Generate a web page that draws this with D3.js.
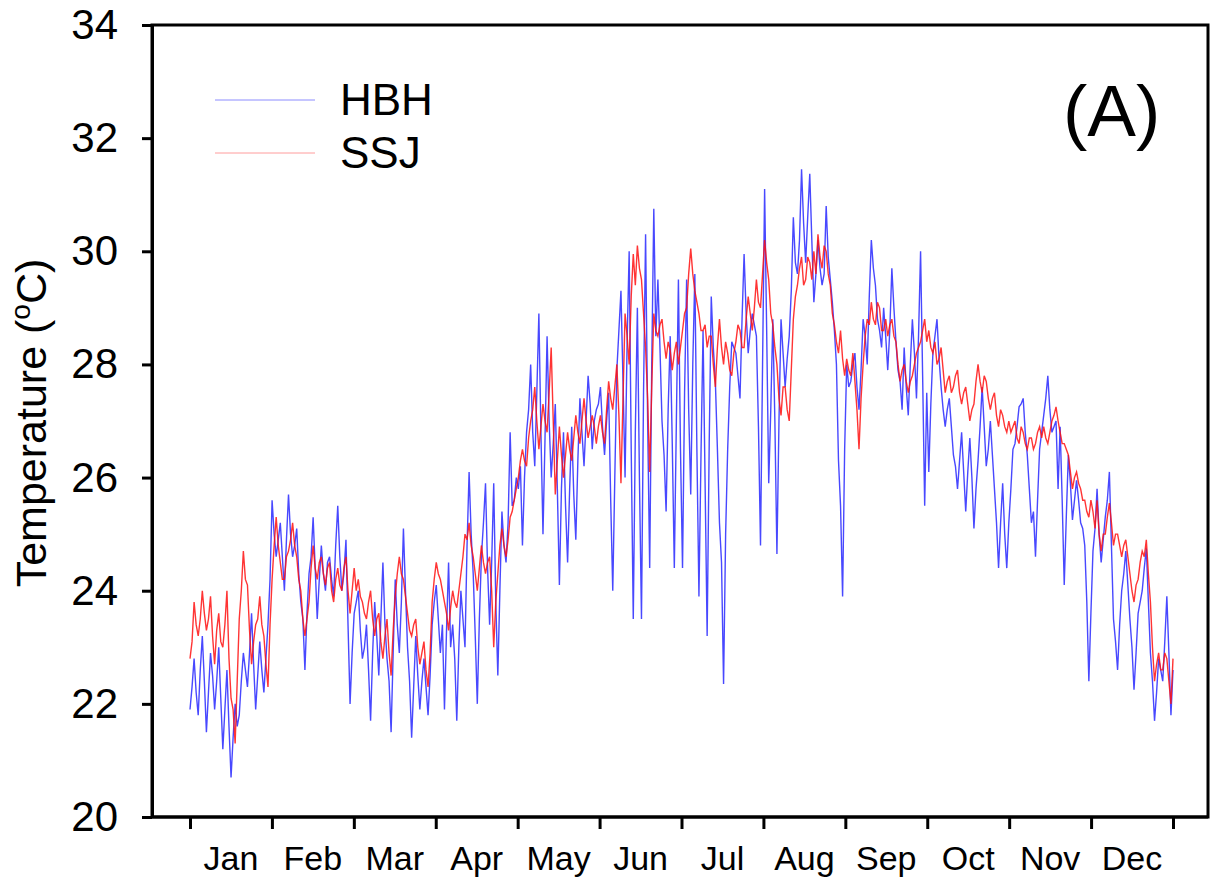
<!DOCTYPE html>
<html>
<head>
<meta charset="utf-8">
<script src="https://cdn.jsdelivr.net/npm/d3@7/dist/d3.min.js"></script>
<style>
  html, body { margin: 0; padding: 0; background: #ffffff; }
  svg { display: block; font-family: "Liberation Sans", Arial, sans-serif; }
</style>
</head>
<body>
<svg id="chart" width="1212" height="879"></svg>
<script>
// ---------- data ----------
const months = ["Jan","Feb","Mar","Apr","May","Jun","Jul","Aug","Sep","Oct","Nov","Dec"];
const yTicks = [20, 22, 24, 26, 28, 30, 32, 34];
const seriesNames = ["HBH", "SSJ"];

// HBH, 20 readings per month
const hbh = [
  21.9, 22.8, 21.8, 23.2, 21.5, 22.9, 21.9, 23.0, 21.2, 22.6, 20.7, 22.0, 21.8, 22.9, 22.3, 23.6, 21.9, 23.1, 22.2, 23.4, // Jan
  25.6, 24.6, 25.2, 24.0, 25.7, 24.6, 25.1, 23.8, 22.6, 24.3, 25.3, 23.5, 24.8, 24.0, 24.6, 23.9, 25.5, 24.0, 24.9, 22.0, // Feb
  23.6, 24.0, 22.8, 23.4, 21.7, 23.8, 22.5, 24.5, 22.8, 21.5, 24.2, 22.9, 25.1, 23.0, 21.4, 23.2, 21.9, 22.8, 21.8, 23.4, // Mar
  24.1, 22.9, 21.9, 24.5, 23.4, 21.7, 24.0, 23.0, 26.1, 24.3, 22.0, 24.6, 25.9, 23.4, 25.9, 22.5, 25.4, 24.5, 26.8, 25.6, // Apr
  25.8, 24.8, 26.8, 28.0, 26.2, 28.9, 25.0, 28.5, 26.0, 27.3, 24.1, 26.8, 24.5, 26.9, 24.9, 27.4, 26.2, 27.8, 26.5, 27.2, // May
  27.6, 26.4, 27.5, 24.0, 27.9, 29.3, 26.0, 30.0, 23.5, 29.0, 23.5, 30.3, 24.4, 30.75, 29.5, 27.0, 25.4, 28.5, 24.4, 29.5, // Jun
  24.4, 29.5, 25.7, 29.6, 23.9, 28.6, 23.2, 29.2, 27.7, 25.2, 22.35, 26.5, 28.4, 28.2, 27.4, 29.95, 28.2, 28.9, 28.5, 24.8, // Jul
  31.1, 25.9, 28.8, 24.65, 28.8, 27.6, 28.5, 30.6, 29.6, 31.45, 29.8, 31.37, 29.1, 30.2, 29.4, 30.8, 29.5, 28.6, 26.3, 23.9, // Aug
  28.0, 27.7, 28.2, 27.2, 28.8, 28.0, 30.2, 29.4, 28.6, 29.0, 27.9, 29.7, 28.4, 27.7, 28.3, 27.1, 28.8, 27.4, 30.0, 25.5, // Sep
  26.1, 28.2, 28.8, 27.6, 26.9, 27.4, 26.4, 25.8, 26.8, 25.4, 26.7, 25.1, 26.3, 27.6, 26.2, 27.0, 25.8, 24.4, 25.9, 24.4, // Oct
  25.8, 26.6, 27.25, 27.4, 26.4, 25.2, 24.6, 26.5, 27.1, 27.8, 26.8, 27.0, 26.9, 24.1, 26.4, 25.25, 25.95, 25.2, 24.8, 22.4, // Nov
  24.7, 25.8, 24.5, 25.3, 26.1, 23.5, 22.6, 24.0, 24.7, 23.5, 22.25, 23.6, 24.0, 24.75, 22.9, 21.7, 22.8, 22.4, 23.9, 21.8  // Dec
];
// HBH, readings taken half-way between the ones above
const hbhMid = [
  22.3, 22.2, 22.6, 22.4, 22.2, 22.5, 22.4, 22.1, 21.9, 21.6, 21.4, 21.6, 22.4, 22.6, 22.9, 22.7, 22.5, 22.6, 22.8, 24.2, // Jan
  25.0, 24.9, 24.6, 24.9, 25.0, 24.8, 24.3, 23.5, 23.6, 24.6, 24.4, 24.2, 24.3, 24.5, 24.2, 24.8, 24.6, 24.3, 23.4, 22.9, // Feb
  23.8, 23.3, 23.0, 22.6, 22.9, 23.2, 23.5, 23.4, 22.4, 22.9, 23.4, 23.8, 24.0, 22.4, 22.3, 22.5, 22.4, 22.3, 22.5, 23.8, // Mar
  23.5, 23.4, 23.3, 23.0, 22.8, 23.0, 23.5, 24.8, 25.0, 23.2, 23.5, 25.2, 24.4, 24.5, 23.8, 24.0, 24.8, 25.2, 25.5, 26.0, // Apr
  26.2, 26.0, 27.2, 26.8, 27.5, 26.8, 26.7, 27.0, 26.6, 25.8, 25.8, 25.5, 25.8, 25.7, 26.3, 26.8, 27.0, 27.3, 27.0, 27.3, // May
  26.9, 27.0, 25.6, 26.0, 28.6, 27.7, 28.4, 26.5, 26.8, 26.0, 27.5, 27.0, 28.0, 28.5, 28.3, 26.4, 27.2, 26.6, 27.0, 26.5, // Jun
  27.5, 27.2, 28.0, 26.5, 26.4, 25.9, 26.6, 28.3, 26.5, 24.5, 25.0, 27.6, 28.3, 27.8, 28.8, 28.9, 28.6, 28.7, 26.9, 28.0, // Jul
  28.6, 27.2, 27.0, 27.0, 28.2, 28.1, 29.3, 29.8, 30.2, 30.5, 30.6, 30.2, 29.6, 29.7, 29.6, 29.9, 29.1, 28.0, 25.5, 26.5, // Aug
  27.6, 28.0, 27.6, 27.9, 28.5, 29.2, 29.7, 28.8, 28.3, 28.5, 28.6, 29.0, 27.9, 27.2, 27.6, 28.0, 28.2, 28.5, 27.8, 27.5, // Sep
  27.3, 28.5, 28.1, 27.2, 27.2, 26.9, 26.2, 26.3, 26.1, 26.1, 26.0, 25.8, 26.9, 26.9, 26.5, 26.4, 25.2, 25.2, 25.0, 25.2, // Oct
  26.5, 26.9, 27.3, 26.8, 25.8, 25.4, 25.6, 26.8, 27.4, 27.2, 26.9, 25.8, 25.6, 25.3, 25.9, 25.6, 25.6, 25.1, 23.8, 23.6, // Nov
  25.1, 25.0, 24.9, 25.6, 24.8, 23.1, 23.4, 24.3, 24.1, 23.0, 22.9, 23.8, 24.4, 23.8, 22.4, 22.2, 22.6, 23.1, 22.9, 22.6  // Dec
];

// SSJ, 20 readings per month
const ssj = [
  22.8, 23.8, 23.2, 24.0, 23.3, 23.9, 22.7, 23.6, 23.0, 24.0, 22.1, 21.3, 23.5, 24.7, 24.1, 22.7, 23.4, 23.9, 23.2, 22.3, // Jan
  24.2, 25.3, 24.5, 24.2, 24.7, 25.2, 24.6, 24.0, 23.2, 23.8, 24.8, 24.2, 24.6, 24.1, 24.5, 23.8, 24.4, 24.0, 24.6, 23.6, // Feb
  24.4, 24.2, 23.8, 23.5, 24.0, 23.2, 23.6, 22.8, 23.5, 22.5, 23.9, 24.6, 24.2, 23.6, 23.2, 23.5, 22.7, 23.1, 22.3, 23.8, // Mar
  24.5, 24.2, 23.8, 23.3, 24.0, 23.7, 24.3, 25.0, 25.2, 24.6, 24.0, 24.8, 24.3, 24.6, 23.0, 24.3, 25.1, 24.6, 25.3, 25.6, // Apr
  26.0, 26.5, 26.2, 27.0, 27.6, 26.5, 27.3, 26.8, 28.3, 25.7, 26.9, 26.0, 26.8, 26.3, 27.1, 26.6, 27.4, 26.7, 27.1, 26.6, // May
  27.1, 26.6, 27.7, 27.2, 28.0, 25.9, 28.9, 28.0, 29.95, 30.1, 29.5, 28.3, 26.1, 28.9, 28.5, 28.8, 28.1, 28.25, 28.2, 28.0, // Jun
  28.6, 29.0, 30.05, 29.3, 28.9, 28.6, 28.3, 28.5, 27.6, 28.8, 28.0, 28.2, 27.8, 28.4, 28.6, 28.3, 29.2, 28.6, 29.5, 29.0, // Jul
  30.2, 29.5, 28.7, 28.0, 27.1, 27.6, 27.0, 28.8, 29.4, 29.9, 29.5, 29.8, 30.0, 30.3, 29.7, 30.0, 29.4, 28.7, 28.2, 28.1, // Aug
  28.1, 27.8, 27.7, 26.5, 28.0, 28.8, 29.1, 28.7, 29.0, 28.6, 28.5, 28.8, 28.4, 27.7, 28.0, 27.5, 27.8, 28.2, 28.4, 28.8, // Sep
  28.6, 28.2, 28.0, 28.3, 27.5, 27.8, 27.6, 27.9, 27.3, 27.6, 27.0, 27.3, 28.0, 27.5, 27.7, 27.2, 27.5, 26.9, 27.1, 26.8, // Oct
  26.8, 27.0, 26.6, 26.8, 26.5, 26.7, 26.6, 26.9, 26.9, 26.6, 27.0, 27.25, 26.8, 26.6, 26.4, 25.8, 26.1, 25.8, 25.6, 25.3, // Nov
  25.4, 25.6, 24.7, 25.0, 25.55, 24.8, 25.0, 24.6, 24.9, 24.3, 23.8, 24.2, 24.7, 24.9, 23.8, 22.4, 22.9, 22.6, 22.8, 22.0  // Dec
];
// SSJ, readings taken half-way between the ones above
const ssjMid = [
  23.1, 23.4, 23.5, 23.6, 23.5, 23.2, 23.3, 23.1, 23.4, 22.8, 21.9, 22.4, 24.0, 24.2, 23.3, 23.1, 23.5, 23.4, 22.7, 23.4, // Jan
  24.8, 24.8, 24.2, 24.6, 24.9, 24.8, 24.2, 23.5, 23.5, 24.4, 24.4, 24.5, 24.3, 24.4, 24.0, 24.2, 24.1, 24.4, 24.0, 24.0, // Feb
  24.0, 23.9, 23.6, 23.8, 23.5, 23.5, 23.1, 23.2, 22.9, 23.3, 24.3, 24.3, 23.9, 23.3, 23.4, 23.0, 22.9, 22.6, 22.9, 24.2, // Mar
  24.3, 24.0, 23.6, 23.7, 23.8, 24.0, 24.6, 24.9, 24.8, 24.3, 24.4, 24.5, 24.5, 24.0, 23.8, 24.8, 24.8, 24.9, 25.4, 25.8, // Apr
  26.3, 26.3, 26.7, 27.2, 27.0, 26.9, 27.0, 27.5, 27.0, 26.3, 26.4, 26.4, 26.5, 26.7, 26.8, 27.0, 27.0, 26.9, 26.9, 26.9, // May
  26.8, 27.2, 27.4, 27.6, 27.1, 27.4, 28.5, 29.2, 29.4, 29.7, 28.9, 27.4, 27.6, 28.6, 28.7, 28.4, 28.4, 27.9, 28.4, 28.3, // Jun
  28.9, 29.6, 29.6, 29.1, 28.6, 28.7, 28.5, 28.0, 28.3, 28.3, 28.4, 27.9, 28.2, 28.7, 28.3, 28.8, 28.9, 29.0, 29.1, 29.6, // Jul
  29.8, 28.9, 28.3, 27.4, 27.6, 27.2, 27.9, 29.2, 29.7, 29.4, 29.9, 29.5, 29.6, 29.9, 30.1, 29.6, 28.9, 28.4, 28.6, 27.8, // Aug
  27.9, 28.2, 27.2, 27.4, 28.5, 28.7, 28.8, 29.1, 28.6, 28.8, 28.7, 28.5, 28.0, 27.9, 27.7, 27.7, 28.0, 28.3, 28.6, 28.4, // Sep
  28.3, 28.4, 28.1, 27.9, 27.7, 27.5, 27.8, 27.5, 27.5, 27.3, 27.2, 27.7, 27.7, 27.8, 27.4, 27.4, 27.1, 27.2, 26.9, 27.0, // Oct
  26.9, 26.7, 26.9, 26.6, 26.7, 26.5, 26.8, 26.7, 26.7, 26.8, 27.1, 27.0, 26.6, 26.5, 26.1, 26.0, 25.9, 25.6, 25.4, 25.6, // Nov
  25.1, 25.0, 25.0, 25.3, 25.2, 25.0, 24.8, 24.8, 24.6, 24.0, 24.1, 24.5, 24.6, 24.3, 23.0, 22.7, 22.6, 22.9, 22.4, 22.8  // Dec
];

// ---------- drawing ----------
const svg = d3.select("#chart");
const plotLeft = 152, plotRight = 1208, plotTop = 25, plotBottom = 817;

const x = d3.scaleLinear().domain([0, 12]).range([190, 1173]);
const y = d3.scaleLinear().domain([20, 34]).range([plotBottom, plotTop]);

svg.append("rect").attr("width", 1212).attr("height", 879).attr("fill", "#ffffff");

// data lines: readings and half-way readings in time order
function drawSeries(values, mids, color, width, opacity) {
  const seq = d3.merge(values.map((v, i) => [v, mids[i]]));
  const n = seq.length;
  const line = d3.line()
    .x((d, i) => x(i * 12 / (n - 1)))
    .y(d => y(d));
  svg.append("path")
    .datum(seq)
    .attr("d", line)
    .attr("fill", "none")
    .attr("stroke", color)
    .attr("stroke-width", width)
    .attr("stroke-opacity", opacity)
    .attr("stroke-linejoin", "miter");
}
drawSeries(hbh, hbhMid, "#1a1aff", 1.4, 0.8);
drawSeries(ssj, ssjMid, "#ff1010", 1.4, 0.85);

// frame
svg.append("rect")
  .attr("x", plotLeft).attr("y", plotTop)
  .attr("width", plotRight - plotLeft).attr("height", plotBottom - plotTop)
  .attr("fill", "none").attr("stroke", "#000").attr("stroke-width", 3);

// y axis
const yAxis = svg.append("g")
  .attr("transform", `translate(${plotLeft},0)`)
  .call(d3.axisLeft(y).tickValues(yTicks).tickSize(10).tickSizeOuter(0).tickPadding(24).tickFormat(d3.format("d")));
yAxis.select(".domain").attr("stroke-width", 3);
yAxis.selectAll(".tick line").attr("stroke-width", 3);
yAxis.selectAll(".tick text")
  .attr("font-size", 42).attr("fill", "#000")
  .attr("font-family", "'Liberation Sans', Arial, sans-serif");

// x axis (month boundaries)
const xAxis = svg.append("g")
  .attr("transform", `translate(0,${plotBottom})`)
  .call(d3.axisBottom(x).tickValues(d3.range(0, 13)).tickSize(12).tickSizeOuter(0).tickFormat(""));
xAxis.select(".domain").remove();
xAxis.selectAll(".tick line").attr("stroke-width", 3);

// month labels centered between ticks
svg.append("g").selectAll("text")
  .data(months)
  .join("text")
  .attr("x", (d, i) => x(i + 0.5))
  .attr("y", 870)
  .attr("text-anchor", "middle")
  .attr("font-size", 34)
  .attr("fill", "#000")
  .text(d => d);

// bottom axis line across full frame
svg.append("line")
  .attr("x1", plotLeft).attr("x2", plotRight)
  .attr("y1", plotBottom).attr("y2", plotBottom)
  .attr("stroke", "#000").attr("stroke-width", 3);

// y axis title
const yt = svg.append("text")
  .attr("transform", `translate(46,${(plotTop + plotBottom) / 2 + 2}) rotate(-90)`)
  .attr("text-anchor", "middle")
  .attr("font-size", 43)
  .attr("fill", "#000");
yt.append("tspan").text("Temperature (");
yt.append("tspan").attr("font-size", 28).attr("dy", -16).text("o");
yt.append("tspan").attr("dy", 16).text("C)");

// legend
const legendColors = ["#8c8cff", "#ff9c9c"];
const legend = svg.append("g");
seriesNames.forEach((name, i) => {
  const ly = 100 + i * 53;
  legend.append("line")
    .attr("x1", 215).attr("x2", 315)
    .attr("y1", ly).attr("y2", ly)
    .attr("stroke", legendColors[i]).attr("stroke-width", 1);
  legend.append("text")
    .attr("x", 340).attr("y", ly + 15)
    .attr("font-size", 44)
    .attr("fill", "#000")
    .text(name);
});

// panel label
svg.append("text")
  .attr("x", 1063).attr("y", 136)
  .attr("font-size", 73)
  .attr("fill", "#000")
  .text("(A)");
</script>
</body>
</html>
